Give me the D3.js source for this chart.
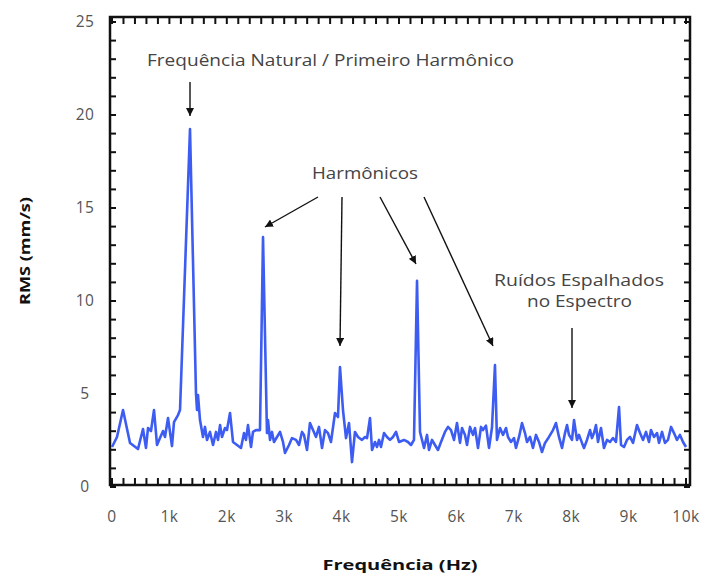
<!DOCTYPE html>
<html><head><meta charset="utf-8">
<script src="https://cdn.jsdelivr.net/npm/d3@7"></script>
<style>
html,body{margin:0;padding:0;background:#fff;}
svg{display:block;}
text{font-family:"Open Sans","Noto Sans",sans-serif;}
</style></head>
<body>
<script>
const freqHz = [0,87,192,314,453,540,592,627,679,732,784,836,889,923,976,1045,1080,1150,1185,1359,1463,1481,1498,1533,1585,1620,1655,1707,1760,1812,1847,1882,1916,1969,2003,2056,2108,2178,2247,2300,2334,2369,2422,2456,2509,2578,2631,2700,2718,2753,2787,2822,2875,2927,2979,3014,3084,3136,3206,3258,3310,3345,3397,3449,3502,3554,3606,3659,3711,3763,3815,3885,3937,3972,4024,4077,4129,4181,4233,4286,4355,4408,4443,4495,4530,4582,4617,4652,4686,4739,4791,4843,4895,4948,5000,5087,5157,5209,5261,5314,5366,5436,5488,5523,5575,5627,5679,5732,5801,5854,5906,5958,6010,6063,6098,6150,6185,6237,6289,6324,6376,6429,6463,6515,6568,6620,6672,6707,6760,6812,6864,6899,6951,7003,7038,7091,7143,7195,7230,7282,7334,7387,7439,7491,7544,7613,7683,7735,7787,7840,7892,7927,7962,8014,8049,8101,8136,8188,8223,8275,8328,8362,8397,8432,8467,8519,8571,8624,8676,8728,8780,8833,8868,8920,8972,9024,9077,9146,9199,9251,9303,9355,9390,9443,9495,9530,9582,9634,9686,9739,9791,9843,9895,9948,10000];
const rmsValues = [2.15,2.69,4.14,2.37,2.04,3.12,2.10,3.17,3.01,4.14,2.26,2.63,3.01,2.69,3.71,2.20,3.49,3.87,4.14,19.25,5.05,4.14,4.95,3.60,2.69,3.23,2.53,2.96,2.26,2.96,2.53,3.33,2.69,3.17,3.06,3.98,2.42,2.26,2.10,2.90,2.53,3.33,2.15,2.96,3.06,3.06,13.44,2.90,3.60,2.53,2.96,2.42,2.69,2.96,2.42,1.83,2.26,2.63,2.53,2.26,2.96,2.80,1.99,3.44,3.06,2.69,3.23,2.10,3.06,2.90,2.42,3.98,3.76,6.45,4.14,2.63,3.44,1.34,2.96,2.69,2.53,2.69,2.63,3.71,1.99,2.42,2.15,2.53,2.15,2.90,2.69,2.53,2.69,2.96,2.42,2.53,2.42,2.26,2.53,11.08,2.96,2.10,2.80,1.99,2.53,2.26,1.99,2.42,2.96,3.23,3.06,2.53,3.44,2.37,3.17,2.80,2.26,3.23,2.80,3.17,2.10,3.23,3.06,3.30,2.10,3.20,6.56,2.53,3.17,2.80,3.17,2.69,2.42,2.63,2.10,2.69,3.44,2.90,2.42,2.69,2.10,2.80,2.42,1.88,2.37,2.69,3.06,3.44,2.69,2.10,2.90,3.33,2.80,2.53,3.60,2.53,2.80,2.37,2.10,2.53,3.06,2.63,2.90,3.33,2.42,3.17,2.10,2.53,2.42,2.63,2.42,4.30,2.26,2.15,2.53,2.69,2.37,3.33,2.90,2.53,2.96,2.42,3.06,2.69,2.90,2.37,2.96,2.37,2.53,3.23,2.90,2.53,2.80,2.42,2.15];
const xTickValues = [0,1000,2000,3000,4000,5000,6000,7000,8000,9000,10000];
const xTickLabels = ["0","1k","2k","3k","4k","5k","6k","7k","8k","9k","10k"];
const yTickValues = [0,5,10,15,20,25];
const yTickLabels = ["0","5","10","15","20","25"];
const xLabel = "Frequência (Hz)";
const yLabel = "RMS (mm/s)";
const titleNote = "Frequência Natural / Primeiro Harmônico";
const harmLabel = "Harmônicos";
const noiseLabel = ["Ruídos Espalhados","no Espectro"];

const W = 705, H = 577;
const svg = d3.select("body").append("svg").attr("width", W).attr("height", H);
const x = d3.scaleLinear().domain([0,10000]).range([112,686]);
const y = d3.scaleLinear().domain([0,25]).range([487,22]);

// frame
const fL = x(0)-2, fR = x(10000)+4, fT = y(25)-5, fB = y(0)-2;
svg.append("rect").attr("x",fL).attr("y",fT).attr("width",fR-fL).attr("height",fB-fT)
  .attr("fill","none").attr("stroke","#111").attr("stroke-width",2.5);

// minor ticks inward
const g = svg.append("g").attr("stroke","#111").attr("stroke-width",2);
d3.range(0,10001,200).forEach(v=>{
  g.append("line").attr("x1",x(v)).attr("x2",x(v)).attr("y1",fB).attr("y2",fB-7);
  g.append("line").attr("x1",x(v)).attr("x2",x(v)).attr("y1",fT).attr("y2",fT+7);
});
d3.range(0,26,1).forEach(v=>{
  g.append("line").attr("x1",fL).attr("x2",fL+6).attr("y1",y(v)).attr("y2",y(v));
  g.append("line").attr("x1",fR).attr("x2",fR-6).attr("y1",y(v)).attr("y2",y(v));
});

// tick labels
svg.append("g").selectAll("text").data(xTickValues).join("text")
  .attr("x",d=>x(d)).attr("y",517).attr("dy","0.35em").attr("text-anchor","middle")
  .attr("font-size",15.5).attr("letter-spacing",0.5).attr("fill","#555").text((d,i)=>xTickLabels[i]);
svg.append("g").selectAll("text").data(yTickValues).join("text")
  .attr("x",85).attr("y",d=>y(d)).attr("dy","0.35em").attr("text-anchor","middle")
  .attr("font-size",15.5).attr("letter-spacing",0.5).attr("fill","#555").text((d,i)=>yTickLabels[i]);

// axis titles
svg.append("text").attr("x",400).attr("y",565).attr("dy","0.35em").attr("text-anchor","middle")
  .attr("font-size",15).attr("font-weight","bold").attr("fill","#111")
  .attr("textLength",155).attr("lengthAdjust","spacingAndGlyphs").text(xLabel);
svg.append("text").attr("transform","translate(25,251) rotate(-90)").attr("dy","0.35em").attr("text-anchor","middle")
  .attr("font-size",15).attr("font-weight","bold").attr("fill","#111")
  .attr("textLength",108).attr("lengthAdjust","spacingAndGlyphs").text(yLabel);

// line
const data = freqHz.map((f,i)=>({f, v:rmsValues[i]}));
svg.append("path").datum(data)
  .attr("fill","none").attr("stroke","#3d5cf2").attr("stroke-width",2.6).attr("stroke-linejoin","round")
  .attr("d", d3.line().x(d=>x(d.f)).y(d=>y(d.v)));

// annotations
const defs = svg.append("defs");
defs.append("marker").attr("id","ah").attr("viewBox","0 0 10 10").attr("refX",10).attr("refY",5)
  .attr("markerWidth",8).attr("markerHeight",8).attr("markerUnits","userSpaceOnUse").attr("orient","auto")
  .append("path").attr("d","M0,0 L10,5 L0,10 z").attr("fill","#111");
function arrow(x1,y1,x2,y2){
  svg.append("line").attr("x1",x1).attr("y1",y1).attr("x2",x2).attr("y2",y2)
    .attr("stroke","#111").attr("stroke-width",1.4).attr("marker-end","url(#ah)");
}
function note(cx, cy, len, txt){
  svg.append("text").attr("x",cx).attr("y",cy).attr("dy","0.35em").attr("text-anchor","middle")
    .attr("font-size",16.5).attr("fill","#444")
    .attr("textLength",len).attr("lengthAdjust","spacingAndGlyphs").text(txt);
}
note(330.5, 60, 367, titleNote);
arrow(x(1359),82,x(1359),116);
note(365, 173, 106, harmLabel);
arrow(318,197,265,227);
arrow(342,197,340,346);
arrow(380,197,416,264);
arrow(424,197,493,346);
note(579, 280, 170, noiseLabel[0]);
note(579.5, 301, 105, noiseLabel[1]);
arrow(572,328,572,408);
</script>
</body></html>
